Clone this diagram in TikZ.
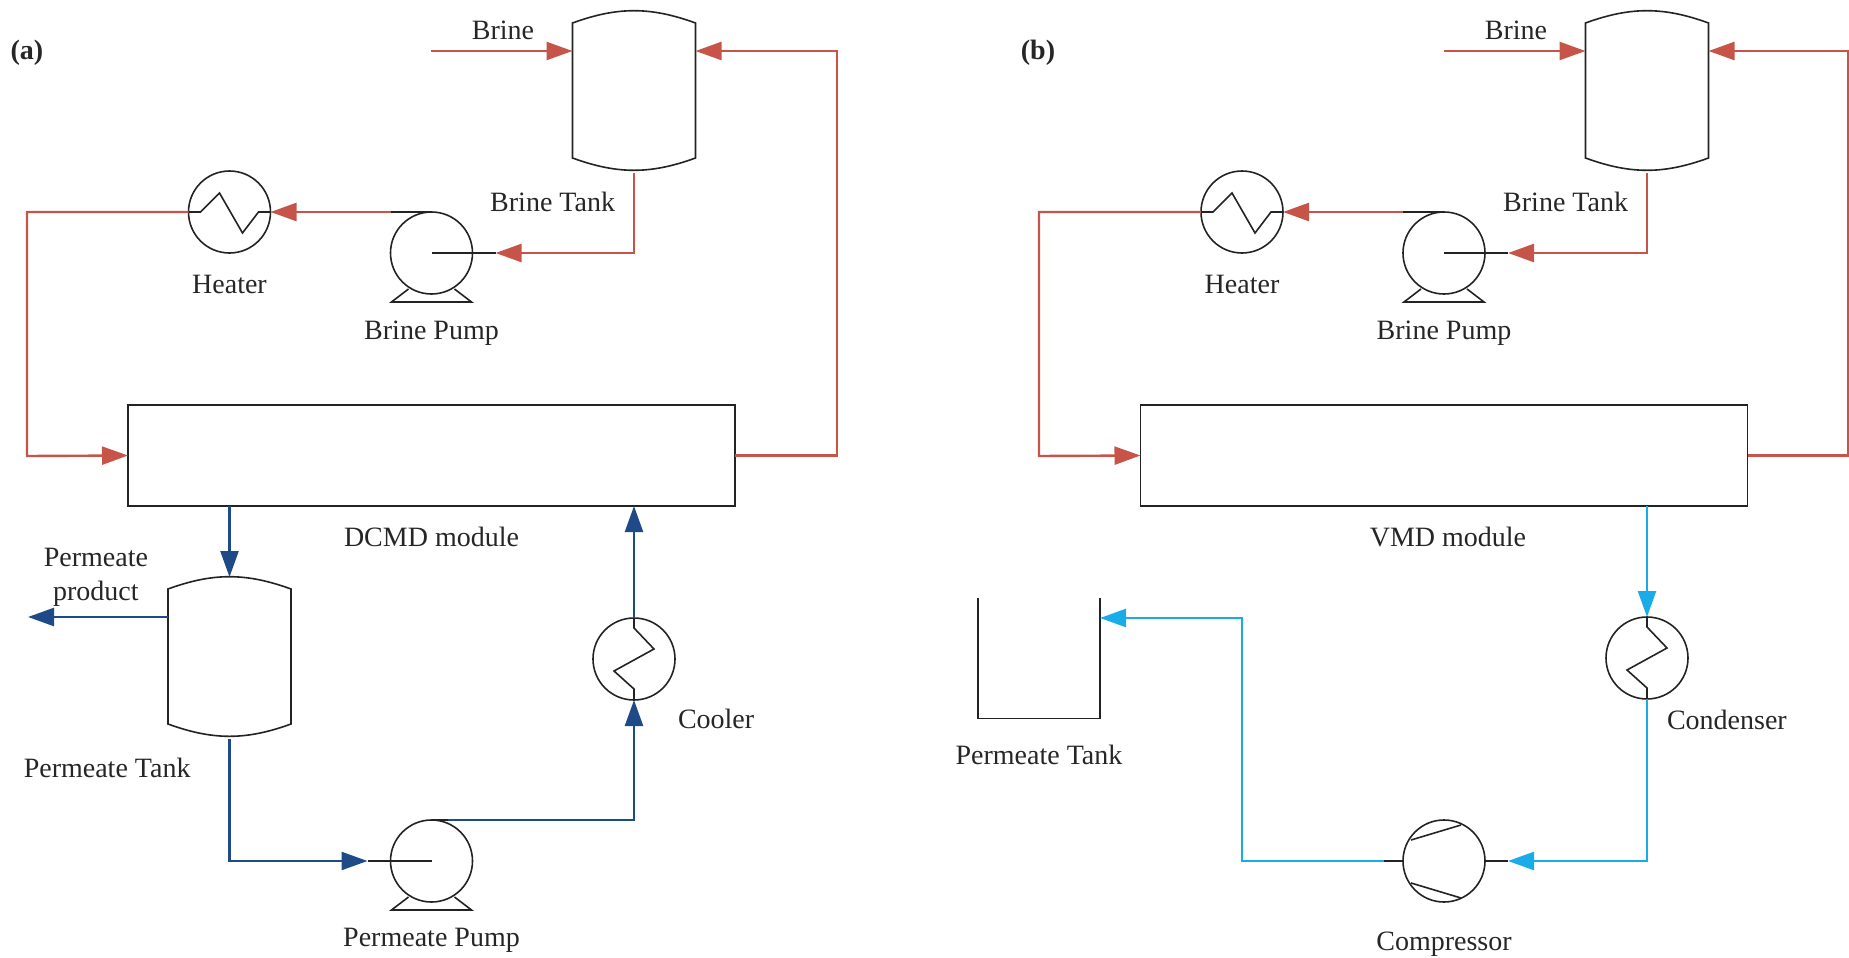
\documentclass[tikz,border=0pt]{standalone}
\usepackage{fontspec}
\setmainfont{Liberation Serif}
\usepackage{tikz}
\usetikzlibrary{positioning,calc,arrows.meta}
\usepackage{xcolor}
\definecolor{brinered}{RGB}{198,84,72}
\definecolor{permblue}{RGB}{30,74,136}
\definecolor{vaccyan}{RGB}{26,172,232}
\definecolor{symbolgray}{RGB}{35,35,35}

% outlines that go on top of the named nodes
\newcommand{\vesselshape}[1]{%
  \draw[symb] ([yshift=-6pt]#1.north west) to[bend left=20] ([yshift=-6pt]#1.north east)
    -- ([yshift=7.5pt]#1.south east) to[bend left=20] ([yshift=7.5pt]#1.south west) -- cycle;}
\newcommand{\pumpbase}[1]{%
  \draw[symb] ($(#1)+(-23,36)$) -- ($(#1)+(-40,49)$) -- ($(#1)+(40,49)$) -- ($(#1)+(23,36)$);}
\newcommand{\heaterzig}[1]{%
  \draw[symb] (#1.west) -- ($(#1)+(-29,0)$) -- ($(#1)+(-10,-19)$) -- ($(#1)+(13,21)$) -- ($(#1)+(29,0)$) -- (#1.east);}
\newcommand{\coolerzig}[1]{%
  \draw[symb] (#1.north) -- ($(#1)+(0,-31)$) -- ($(#1)+(20,-10)$) -- ($(#1)+(-20,12)$) -- ($(#1)+(0,30)$) -- (#1.south);}

\begin{document}
\begin{tikzpicture}[x=0.5pt, y=-0.5pt,
    symb/.style={draw=symbolgray, line width=0.8pt, line join=miter},
    vessel/.style={rectangle, minimum width=61.5pt, minimum height=81pt, inner sep=0pt, outer sep=0pt},
    rotor/.style={circle, draw=symbolgray, line width=0.8pt, minimum size=41pt, inner sep=0pt, outer sep=0pt},
    module/.style={rectangle, draw=symbolgray, line width=0.9pt, minimum width=303.5pt,
                   minimum height=50.5pt, inner sep=0pt, outer sep=0pt},
    opentank/.style={rectangle, minimum width=61pt, minimum height=60.5pt, inner sep=0pt, outer sep=0pt},
    brineflow/.style={-{Triangle[length=13pt, width=9pt]}, line width=1.2pt, draw=brinered, color=brinered},
    permflow/.style={-{Triangle[length=13pt, width=9pt]}, line width=1.2pt, draw=permblue, color=permblue},
    vacflow/.style={-{Triangle[length=13pt, width=9pt]}, line width=1.2pt, draw=vaccyan, color=vaccyan},
    lbl/.style={inner sep=0pt, outer sep=0pt, align=center, text=black!85, font=\fontsize{14}{17}\selectfont}
]
\useasboundingbox (0,0) rectangle (1849,958);

% panel (a)
\node[module] at (431.5,455.5) (moda) {};
\node[vessel, above=116pt of moda.north, xshift=101.25pt] (tanka) {};
\node[rotor, above=55.5pt of moda] (pumpa) {};
\node[rotor, left=60pt of pumpa, yshift=20.5pt] (heatera) {};
\node[vessel, below=35.5pt of moda.south, xshift=-101pt] (permtanka) {};
\node[rotor, below=157pt of moda] (permpumpa) {};
\node[rotor, below=56pt of moda, xshift=101.25pt] (coolera) {};

\coordinate (brineina) at (431,51);
\coordinate (returna) at (837,51);
\coordinate (feeda) at (27,456);
\coordinate (producta) at (28,617);
\coordinate (pumpina) at ($(pumpa)+(64,0)$);
\coordinate (permpumpina) at ($(permpumpa)+(-64,0)$);

\vesselshape{tanka}
\vesselshape{permtanka}
\pumpbase{pumpa}
\pumpbase{permpumpa}
\heaterzig{heatera}
\coolerzig{coolera}

\draw[brineflow] (brineina) -- (brineina -| tanka.west);
\draw[brineflow] (moda.east) -| (returna) -- (returna -| tanka.east);
\draw[brineflow] (tanka.south) |- (pumpina);
\draw[brineflow] (pumpa.north) -- (pumpa.north -| heatera.east);
\draw[brineflow] (heatera.west) -| (feeda) -- (moda.west);
\draw[permflow] (moda.south -| permtanka) -- (permtanka.north);
\draw[permflow] (producta -| permtanka.west) -- (producta);
\draw[permflow] (permtanka.south) |- (permpumpina);
\draw[permflow] (permpumpa.north) -| (coolera.south);
\draw[permflow] (coolera.north) -- (moda.south -| coolera);
\draw[symb] (pumpa.center) -- (pumpina);
\draw[symb] (pumpa.north) -- ($(pumpa.north)+(-41,0)$);
\draw[symb] (permpumpa.center) -- (permpumpina);
\draw[symb] (permpumpa.north) -- ($(permpumpa.north)+(16,0)$);

\node[lbl, font=\fontsize{14}{17}\selectfont\bfseries] at (27,53) (labela) {(a)};
\node[lbl] at ($(tanka)+(-131,-62)$) (brinelba) {Brine};
\node[lbl, left=9.5pt of tanka.south, yshift=-14.5pt] (tanklba) {Brine Tank};
\node[lbl, below=13.5pt of pumpa.south] (pumplba) {Brine Pump};
\node[lbl, below=11pt of heatera] (heaterlba) {Heater};
\node[lbl, below=10.5pt of moda] (modlba) {DCMD module};
\node[lbl, left=10pt of permtanka.north west] (productlba) {Permeate\\product};
\node[lbl, left=19.5pt of permtanka.south, yshift=-14.5pt] (permtanklba) {Permeate Tank};
\node[lbl, below=13pt of permpumpa.south] (permpumplba) {Permeate Pump};
\node[lbl, right=22pt of coolera.south, yshift=-9.5pt] (coolerlba) {Cooler};

% panel (b)
\node[module] at (1444,455.5) (modb) {};
\node[vessel, above=116pt of modb.north, xshift=101.5pt] (tankb) {};
\node[rotor, above=55.5pt of modb] (pumpb) {};
\node[rotor, left=60pt of pumpb, yshift=20.5pt] (heaterb) {};
\node[rotor, below=55.5pt of modb, xshift=101.5pt] (condb) {};
\node[rotor, below=157pt of modb] (compb) {};
\node[opentank, left=253pt of condb] (permtankb) {};

\coordinate (brineinb) at (1444,51);
\coordinate (returnb) at (1848,51);
\coordinate (feedb) at (1039,456);
\coordinate (pumpinb) at ($(pumpb)+(64,0)$);
\coordinate (compinb) at ($(compb)+(64,0)$);
\coordinate (compoutb) at ($(compb)+(-60,0)$);
\coordinate (tankinb) at (1242,618);

\vesselshape{tankb}
\pumpbase{pumpb}
\heaterzig{heaterb}
\coolerzig{condb}
\draw[symb] (permtankb.north west) -- (permtankb.south west) -- (permtankb.south east) -- (permtankb.north east);
\draw[symb] ($(compb)+(-33,-21)$) -- ($(compb)+(17,-36)$);
\draw[symb] ($(compb)+(-33,22)$) -- ($(compb)+(17,37)$);

\draw[brineflow] (brineinb) -- (brineinb -| tankb.west);
\draw[brineflow] (modb.east) -| (returnb) -- (returnb -| tankb.east);
\draw[brineflow] (tankb.south) |- (pumpinb);
\draw[brineflow] (pumpb.north) -- (pumpb.north -| heaterb.east);
\draw[brineflow] (heaterb.west) -| (feedb) -- (modb.west);
\draw[vacflow] (modb.south -| condb) -- (condb.north);
\draw[vacflow] (condb.south) |- (compinb);
\draw[vacflow] (compoutb) -| (tankinb) -- (tankinb -| permtankb.east);
\draw[symb] (pumpb.center) -- (pumpinb);
\draw[symb] (pumpb.north) -- ($(pumpb.north)+(-41,0)$);
\draw[symb] (compb.east) -- (compinb);
\draw[symb] (compb.west) -- (compoutb);

\node[lbl, font=\fontsize{14}{17}\selectfont\bfseries] at (1038,53) (labelb) {(b)};
\node[lbl] at ($(tankb)+(-131,-62)$) (brinelbb) {Brine};
\node[lbl, left=9.5pt of tankb.south, yshift=-14.5pt] (tanklbb) {Brine Tank};
\node[lbl, below=13.5pt of pumpb.south] (pumplbb) {Brine Pump};
\node[lbl, below=11pt of heaterb] (heaterlbb) {Heater};
\node[lbl, below=10.5pt of modb, xshift=2pt] (modlbb) {VMD module};
\node[lbl, below=13.5pt of permtankb] (permtanklbb) {Permeate Tank};
\node[lbl, right=10pt of condb.south, yshift=-10.5pt] (condlbb) {Condenser};
\node[lbl, below=15pt of compb] (complbb) {Compressor};

\end{tikzpicture}
\end{document}
